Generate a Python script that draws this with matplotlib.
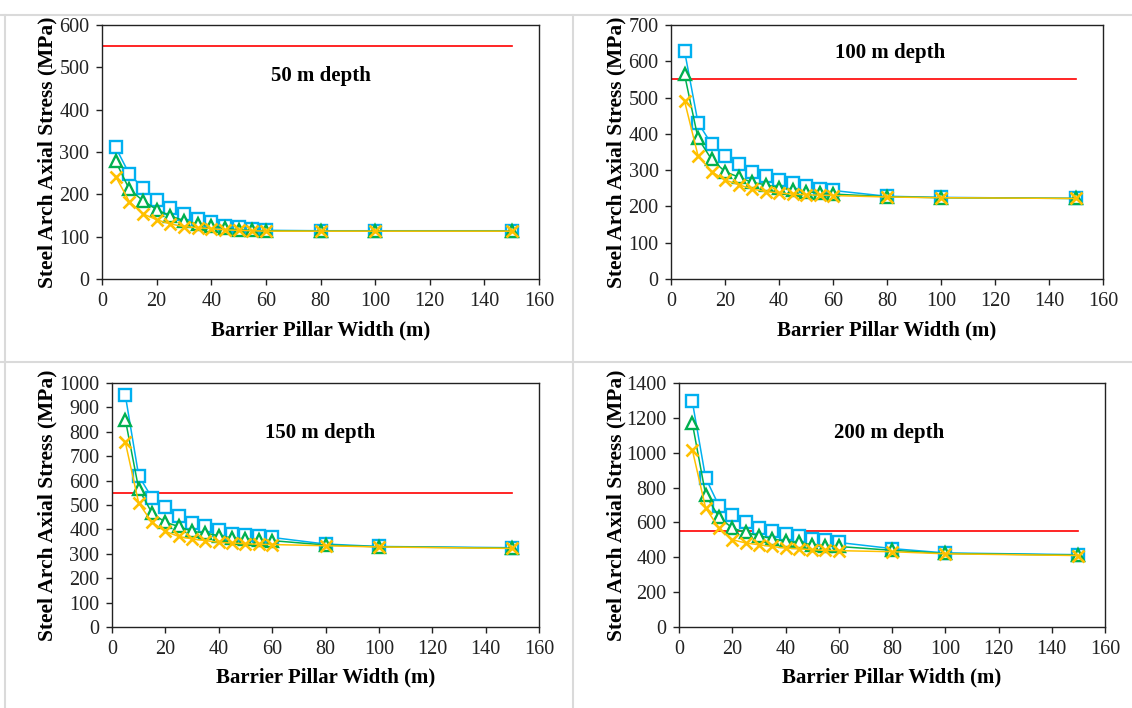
import matplotlib
matplotlib.use("Agg")
import matplotlib.pyplot as plt
from matplotlib.lines import Line2D

# ---------------- data ----------------
widths = [5, 10, 15, 20, 25, 30, 35, 40, 45, 50, 55, 60, 80, 100, 150]

depth_titles = ["50 m depth", "100 m depth", "150 m depth", "200 m depth"]

sq_50 = [311, 248, 215, 187, 167, 153, 142, 134, 126, 122, 118, 115, 114, 114, 114]
tri_50 = [278, 212, 185, 164, 149, 138, 130, 126, 120, 116, 115, 114, 113, 113, 113]
x_50 = [242, 183, 154, 140, 130, 124, 121, 119, 116, 115, 114, 113, 113, 113, 113]

sq_100 = [629, 431, 372, 339, 316, 296, 285, 273, 264, 255, 248, 244, 228, 225, 222]
tri_100 = [564, 388, 330, 296, 281, 266, 260, 252, 246, 241, 237, 234, 227, 224, 222]
x_100 = [491, 340, 296, 273, 260, 248, 241, 237, 234, 232, 231, 230, 226, 224, 222]

sq_150 = [949, 620, 529, 490, 453, 426, 412, 399, 382, 378, 374, 367, 340, 330, 325]
tri_150 = [850, 566, 467, 429, 412, 392, 385, 374, 365, 361, 358, 354, 336, 329, 323]
x_150 = [757, 508, 429, 392, 371, 361, 354, 347, 344, 341, 339, 338, 333, 328, 322]

sq_200 = [1294, 855, 696, 644, 600, 568, 549, 533, 520, 505, 497, 485, 450, 425, 415]
tri_200 = [1170, 759, 631, 568, 543, 524, 507, 491, 485, 472, 466, 462, 440, 422, 412]
x_200 = [1017, 683, 568, 501, 482, 472, 462, 453, 449, 443, 440, 438, 432, 420, 410]

threshold = 550
threshold_x = [0, 150]

y_max = [600, 700, 1000, 1400]
y_step = [100, 100, 100, 200]
x_ticks = [0, 20, 40, 60, 80, 100, 120, 140, 160]

series = [
    (sq_50, tri_50, x_50),
    (sq_100, tri_100, x_100),
    (sq_150, tri_150, x_150),
    (sq_200, tri_200, x_200),
]

# ---------------- layout ----------------
W, H = 1132, 708
plt.rcParams['font.family'] = ['Liberation Serif', 'DejaVu Serif']
fig = plt.figure(figsize=(W / 100, H / 100), dpi=100)
fig.patch.set_facecolor('white')

# pixel boxes: left, right, top, bottom
boxes = [
    (102, 539, 25, 279),
    (671, 1103, 25, 279),
    (112, 539, 383, 627),
    (679, 1105, 383, 627),
]
ylabel_x = [47, 616, 47, 616]
xlabel_y = [330, 330, 677, 677]
title_pos = [(0.50, 0.80), (0.507, 0.89), (0.487, 0.795), (0.494, 0.795)]

# gray cell separators
sep_color = '#DADADA'
fig.add_artist(Line2D([573 / W, 573 / W], [0, 1 - 15 / H], transform=fig.transFigure,
                      color=sep_color, lw=1.5))
fig.add_artist(Line2D([0, 1], [1 - 362 / H, 1 - 362 / H], transform=fig.transFigure,
                      color=sep_color, lw=1.5))
fig.add_artist(Line2D([0, 1], [1 - 15 / H, 1 - 15 / H], transform=fig.transFigure,
                      color=sep_color, lw=1.5))
fig.add_artist(Line2D([5 / W, 5 / W], [0, 1 - 15 / H], transform=fig.transFigure,
                      color=sep_color, lw=1.5))

blue = '#00B0F0'
green = '#00B050'
gold = '#FFC000'
red = '#FF0000'

for i, (l, r, t, b) in enumerate(boxes):
    ax = fig.add_axes([l / W, 1 - b / H, (r - l) / W, (b - t) / H])
    sq, tri, xs = series[i]
    ax.plot(widths, sq, color=blue, lw=1.1, marker='s', ms=8.5, mfc='white',
            mec=blue, mew=1.7, zorder=3)
    ax.plot(widths, tri, color=green, lw=1.1, marker='^', ms=8.5, mfc='white',
            mec=green, mew=1.7, zorder=4)
    ax.plot(widths, xs, color=gold, lw=1.1, marker='x', ms=8.5,
            mec=gold, mew=1.9, zorder=5)
    ax.plot(threshold_x, [threshold, threshold], color=red, lw=1.2, zorder=2)

    ax.set_xlim(0, 160)
    ax.set_ylim(0, y_max[i])
    ax.set_xticks(x_ticks)
    ax.set_yticks(list(range(0, y_max[i] + 1, y_step[i])))
    for s in ax.spines.values():
        s.set_color('#222222')
        s.set_linewidth(1.0)
    ax.tick_params(direction='out', length=4, width=1.0, color='#222222',
                   labelsize=14.5, labelcolor='#222222', pad=5,
                   top=False, right=False)

    ax.text(title_pos[i][0], title_pos[i][1], depth_titles[i], transform=ax.transAxes,
            ha='center', va='center', fontsize=15, fontweight='bold', color='black')

    cx = (l + r) / 2
    fig.text(cx / W, 1 - xlabel_y[i] / H, 'Barrier Pillar Width (m)', ha='center',
             va='center', fontsize=15, fontweight='bold', color='black')
    fig.text(ylabel_x[i] / W, 1 - ((t + b) / 2) / H, 'Steel Arch Axial Stress (MPa)',
             ha='center', va='center', rotation=90, fontsize=15.5,
             fontweight='bold', color='black')

fig.savefig('out.png', dpi=100, facecolor='white')
